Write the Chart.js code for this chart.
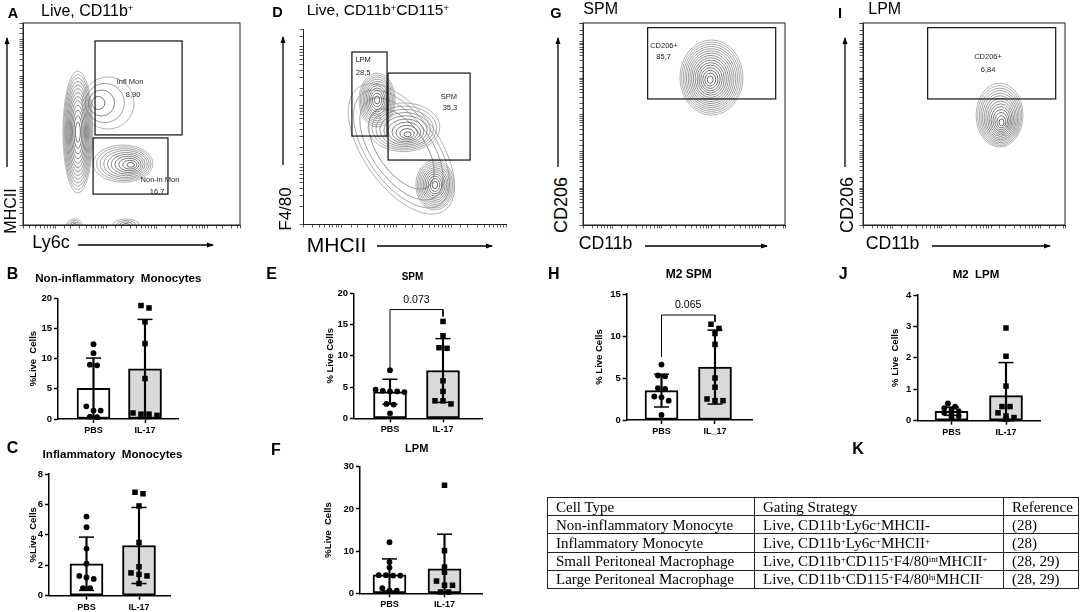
<!DOCTYPE html>
<html>
<head>
<meta charset="utf-8">
<title>Monocyte and macrophage gating</title>
<script src="https://cdn.jsdelivr.net/npm/chart.js@4.4.1/dist/chart.umd.min.js"></script>
<style>
  html, body { margin: 0; padding: 0; background: #fff; }
  #fig { position: relative; width: 1084px; height: 612px; overflow: hidden; font-family: "Liberation Sans", Arial, sans-serif; color: #000; }
  #fig canvas { position: absolute; }
  .t, .tl, .rot { position: absolute; white-space: pre; line-height: 1; }
  .t { transform: translate(-50%, -50%); }
  .tl { transform: translateY(-50%); }
  .rot { transform: translate(-50%, -50%) rotate(-90deg); }
  sup { font-size: 0.6em; vertical-align: 0.5em; line-height: 0; }
  #cells { position: absolute; left: 547px; top: 497px; width: 531px; table-layout: fixed; border-collapse: collapse;
           font-family: "Liberation Serif", "Times New Roman", serif; font-size: 15px; }
  #cells tr { height: 18.2px; }
  #cells td { border: 1px solid #222; padding: 0 0 0 8px; line-height: 16px; white-space: nowrap; overflow: hidden; }
</style>
</head>
<body>
<div id="fig"></div>
<script>
// ============================
// data
// ============================
const groups = ['PBS', 'IL-17'];
const groupsH = ['PBS', 'IL_17'];

// B  non-inflammatory monocytes
const nonInfPBS  = [12.4, 10.9, 9.0, 8.9, 2.1, 1.4, 1.4, 0.4, 0.3];
const nonInfIL17 = [18.8, 18.4, 16.1, 12.5, 6.7, 1.0, 0.8, 0.8, 0.6];
const nonInfMean = [5.1, 8.3];
const nonInfSD   = [5.0, 8.2];

// C  inflammatory monocytes
const infPBS  = [5.2, 4.5, 3.1, 2.1, 1.3, 1.2, 1.1, 0.5, 0.5];
const infIL17 = [6.8, 6.7, 5.9, 3.5, 1.9, 1.5, 1.4, 1.3, 0.8];
const infMean = [2.1, 3.3];
const infSD   = [1.75, 2.5];

// E  SPM
const spmPBS  = [7.7, 4.6, 4.4, 4.3, 4.3, 4.2, 2.3, 2.2, 0.8];
const spmIL17 = [15.5, 13.2, 11.3, 11.2, 6.0, 4.3, 2.8, 2.8, 2.3];
const spmMean = [4.25, 7.65];
const spmSD   = [2.0, 5.1];

// F  LPM
const lpmPBS  = [12.1, 7.4, 6.1, 4.3, 4.3, 4.2, 4.2, 1.2, 0.6, 0.6];
const lpmIL17 = [25.6, 10.1, 6.2, 5.0, 2.9, 1.9, 1.9, 0.3, 0.3];
const lpmMean = [4.35, 5.8];
const lpmSD   = [3.8, 8.2];

// H  M2 SPM
const m2spmPBS  = [6.6, 5.3, 5.2, 3.8, 3.7, 2.8, 2.7, 2.3, 0.6];
const m2spmIL17 = [11.4, 10.9, 10.3, 9.0, 5.0, 3.9, 2.5, 2.3, 2.3];
const m2spmMean = [3.5, 6.3];
const m2spmSD   = [1.95, 4.4];

// J  M2 LPM
const m2lpmPBS  = [0.55, 0.45, 0.4, 0.35, 0.3, 0.25, 0.2, 0.15, 0.1];
const m2lpmIL17 = [2.95, 2.05, 1.1, 0.45, 0.45, 0.25, 0.15, 0.1, 0.05];
const m2lpmMean = [0.3, 0.8];
const m2lpmSD   = [0.13, 1.05];

// p value brackets: [left leg end, bar height, right leg end, label height]
const spmBracket   = [8.1, 17.4, 16.3, 18.9];
const m2spmBracket = [7.5, 12.5, 11.7, 13.7];

// flow plots, values in % of the plot frame
// gates: [x1, y1, x2, y2]
// populations: [cx, cy, rx, ry, rings, tilt, outer dx, outer dy, ring spread]
const gatesA = [[33.2, 44.6, 73.3, 91.1], [32.3, 15.3, 66.8, 43.1]];
const gateTextA = [['Infl Mon', 49.3, 70.8], ['8,90', 50.7, 64.4], ['Non-in Mon', 63.1, 22.3], ['16,7', 61.8, 16.3]];
const popsA = [
  [25.3, 46.0, 6.9, 30.2, 13, 0, 0, 0, 0.7],
  [33.2, 60.4, 12.0, 12.9, 4, 0, 6, 0, 1],
  [50.2, 29.7, 13.8, 9.2, 10, 0, -4.1, 0.7, 0.9],
  [23.7, 0, 3.5, 3.0, 4, 0, 0, 0, 1],
  [47.5, 0, 6.0, 3.0, 4, 0, 0, 0, 1]
];

const gatesD = [[24.1, 45.1, 41.4, 88.2], [41.9, 32.8, 82.3, 77.4]];
const gateTextD = [['LPM', 29.6, 84.1], ['28,5', 29.6, 77.4], ['SPM', 71.9, 65.1], ['35,3', 72.4, 59.5]];
const popsD = [
  [48.5, 38.5, 37.0, 19.5, 4, 55, 0, 0, 0.35],
  [36.5, 63.6, 8.9, 13.8, 11, 0, 0, 0, 0.8],
  [51.7, 45.6, 17.7, 12.5, 10, 0, -2, 4, 1],
  [65.0, 20.0, 9.4, 12.8, 11, 0, 0, 0, 0.8]
];

const gatesG = [[32.0, 62.4, 95.4, 97.7]];
const gateTextG = [['CD206+', 40.1, 88.6], ['85,7', 39.9, 83.2]];
const popsG = [[62.9, 71.8, 15.6, 18.6, 16, 0, 0.7, 1.2, 0.85]];

const gatesI = [[32.0, 62.4, 95.4, 97.7]];
const gateTextI = [['CD206+', 61.9, 83.2], ['6,84', 61.9, 76.7]];
const popsI = [[68.7, 50.3, 11.6, 15.8, 14, 0, -1.1, 4.1, 0.85]];

// K  table
const tableHead = ['Cell Type', 'Gating Strategy', 'Reference'];
const cellTypes = ['Non-inflammatory Monocyte', 'Inflammatory Monocyte', 'Small Peritoneal Macrophage', 'Large Peritoneal Macrophage'];
const gatingRules = [
  'Live, CD11b<sup>+</sup>Ly6c<sup>+</sup>MHCII-',
  'Live, CD11b<sup>+</sup>Ly6c<sup>+</sup>MHCII<sup>+</sup>',
  'Live, CD11b<sup>+</sup>CD115<sup>+</sup>F4/80<sup>int</sup>MHCII<sup>+</sup>',
  'Live, CD11b<sup>+</sup>CD115<sup>+</sup>F4/80<sup>hi</sup>MHCII<sup>-</sup>'
];
const references = ['(28)', '(28)', '(28, 29)', '(28, 29)'];

// ============================
// helpers
// ============================
Chart.defaults.font.family = '"Liberation Sans", Arial, sans-serif';
Chart.defaults.color = '#000';
Chart.defaults.animation = false;
Chart.defaults.plugins.legend.display = false;
Chart.defaults.plugins.tooltip.enabled = false;

const fig = document.getElementById('fig');

function addCanvas(x, y, w, h) {
  const c = document.createElement('canvas');
  c.width = w; c.height = h;
  c.style.left = x + 'px'; c.style.top = y + 'px';
  c.style.width = w + 'px'; c.style.height = h + 'px';
  fig.appendChild(c);
  return c;
}

function put(html, x, y, css, cls) {
  const d = document.createElement('div');
  d.className = cls || 't';
  d.innerHTML = html;
  d.style.cssText = 'left:' + x + 'px;top:' + y + 'px;' + (css || '');
  fig.appendChild(d);
}

// dot layout like the stats program: values that sit at the same height share a centred row
function swarm(vals, pxY, pxX, idx, gap) {
  const order = vals.map((v, i) => i).sort((a, b) => vals[b] - vals[a]);
  const out = new Array(vals.length);
  let row = [];
  const flush = () => {
    row.forEach((i, k) => {
      out[i] = { x: idx + (k - (row.length - 1) / 2) * gap / pxX, y: vals[i] };
    });
    row = [];
  };
  order.forEach(i => {
    if (row.length && (vals[row[0]] - vals[i]) * pxY > gap * 0.6) flush();
    row.push(i);
  });
  flush();
  return out;
}

function sigLabel(text, yv) {
  return {
    id: 'sigLabel',
    afterDatasetsDraw(chart) {
      if (!text) return;
      const { ctx, scales: { x, y } } = chart;
      ctx.save();
      ctx.font = '10.5px "Liberation Sans", Arial';
      ctx.fillStyle = '#000';
      ctx.textAlign = 'center';
      ctx.textBaseline = 'middle';
      ctx.fillText(text, x.getPixelForValue(0.5), y.getPixelForValue(yv));
      ctx.restore();
    }
  };
}

// ============================
// bar + dot panels
// ============================
function barPanel(p) {
  const left = Math.round(p.titleX - 5.7);
  const top = Math.round(p.T - 12);
  const xH = 22;
  const w = Math.ceil(p.R + 10 - left);
  const h = Math.ceil(p.B + xH + 2 - top);
  const cv = addCanvas(left, top, w, h);
  const span = p.c1 - p.c0;
  const pxY = (p.B - p.T) / p.ymax;
  const dots = swarm(p.pbs, pxY, span, 0, 7.2);
  const squares = swarm(p.il17, pxY, span, 1, 8);
  const caps = [];
  p.mean.forEach((m, i) => {
    caps.push({ x: i, y: m + p.sd[i] }, { x: i, y: Math.max(m - p.sd[i], 0) });
  });

  const datasets = [
    { type: 'bar', data: p.mean.map((m, i) => ({ x: i, y: m })), backgroundColor: ['#ffffff', '#d9d9d9'],
      borderColor: '#000', borderWidth: 2, borderSkipped: false, barThickness: 33, grouped: false, order: 6 },
    { type: 'bar', data: p.mean.map((m, i) => ({ x: i, y: [Math.max(m - p.sd[i], 0), m + p.sd[i]] })),
      backgroundColor: '#000', borderWidth: 0, barThickness: 1.5, grouped: false, order: 5 },
    { type: 'scatter', data: caps, pointStyle: 'line', pointRadius: 7.5, pointBorderColor: '#000',
      pointBorderWidth: 1.5, clip: false, order: 4 },
    { type: 'scatter', data: dots, pointStyle: 'circle', pointRadius: 2.9, pointBackgroundColor: '#000',
      pointBorderWidth: 0, clip: false, order: 3 },
    { type: 'scatter', data: squares, pointStyle: 'rect', pointRadius: 3.9, pointBackgroundColor: '#000',
      pointBorderWidth: 0, clip: false, order: 2 }
  ];
  if (p.bracket) {
    const b = p.bracket;
    datasets.push({ type: 'line', data: [{ x: 0, y: b[0] }, { x: 0, y: b[1] }, { x: 1, y: b[1] }, { x: 1, y: b[2] }],
      borderColor: '#000', borderWidth: 1, pointRadius: 0, fill: false, clip: false, order: 1 });
  }

  new Chart(cv, {
    type: 'bar',
    data: { datasets },
    options: {
      responsive: false,
      events: [],
      layout: { padding: { left: 0, top: p.T - top, right: w - (p.R - left), bottom: h - xH - (p.B - top) } },
      scales: {
        x: {
          type: 'linear', offset: false,
          min: -(p.c0 - p.L) / span, max: 1 + (p.R - p.c1) / span,
          afterBuildTicks: s => { s.ticks = [{ value: 0 }, { value: 1 }]; },
          ticks: { callback: (v, i) => p.labels[i], font: { size: 9, weight: 'bold' }, padding: 2, maxRotation: 0, autoSkip: false },
          grid: { drawOnChartArea: false, offset: false, tickLength: 4, tickColor: '#000', tickWidth: 1.5 },
          border: { color: '#000', width: 1.5 },
          afterFit: s => { s.height = xH; }
        },
        y: {
          type: 'linear', min: 0, max: p.ymax,
          ticks: { stepSize: p.step, font: { size: 9.5, weight: 'bold' }, padding: 2 },
          grid: { drawOnChartArea: false, tickLength: 4, tickColor: '#000', tickWidth: 1.5 },
          border: { color: '#000', width: 1.5 },
          title: { display: true, text: p.yTitle, font: { size: 9.5, weight: 'bold' }, padding: 0 },
          afterFit: s => { s.width = p.L - left; }
        }
      }
    },
    plugins: [sigLabel(p.sigText, p.bracket ? p.bracket[3] : 0)]
  });
}

// ============================
// flow cytometry panels
// ============================
function drawPop(ctx, x, y, b) {
  const [cx, cy, rx, ry, n, tilt, sx, sy, pw] = b;
  const px = x.getPixelForValue(cx), py = y.getPixelForValue(cy);
  const prx = x.getPixelForValue(cx + rx) - px;
  const pry = py - y.getPixelForValue(cy + ry);
  const psx = x.getPixelForValue(cx + sx) - px;
  const psy = y.getPixelForValue(cy + sy) - py;
  ctx.lineWidth = 0.8;
  for (let k = n; k >= 1; k--) {
    const t = Math.pow(k / n, pw);
    const g = Math.round(55 + 105 * t);
    ctx.strokeStyle = 'rgb(' + g + ',' + g + ',' + g + ')';
    ctx.beginPath();
    ctx.ellipse(px + psx * t, py + psy * t, prx * t, pry * t, tilt * Math.PI / 180, 0, 2 * Math.PI);
    ctx.stroke();
  }
}

function flowMarks(p) {
  return {
    id: 'flowMarks',
    afterDraw(chart) {
      const { ctx, chartArea: a, scales: { x, y } } = chart;
      ctx.save();
      ctx.beginPath();
      ctx.rect(a.left, a.top, a.width, a.height);
      ctx.clip();
      p.pops.forEach(b => drawPop(ctx, x, y, b));
      ctx.restore();

      ctx.save();
      ctx.strokeStyle = '#111';
      ctx.lineWidth = 1.2;
      p.gates.forEach(g => {
        const x1 = x.getPixelForValue(g[0]), x2 = x.getPixelForValue(g[2]);
        const y1 = y.getPixelForValue(g[1]), y2 = y.getPixelForValue(g[3]);
        ctx.strokeRect(x1, y2, x2 - x1, y1 - y2);
      });
      ctx.fillStyle = '#222';
      ctx.font = '7.5px "Liberation Sans", Arial';
      ctx.textAlign = 'center';
      ctx.textBaseline = 'middle';
      p.texts.forEach(t => ctx.fillText(t[0], x.getPixelForValue(t[1]), y.getPixelForValue(t[2])));
      if (p.box) {
        ctx.strokeStyle = '#222';
        ctx.lineWidth = 1;
        ctx.strokeRect(a.left, a.top, a.width, a.height);
      }
      ctx.restore();
    }
  };
}

function flowPanel(p) {
  const m = 5, tk = 6;
  const left = p.l - m - tk, top = p.t - m;
  const w = p.r - p.l + 2 * m + tk, h = p.b - p.t + 2 * m + tk;
  const cv = addCanvas(left, top, w, h);
  const logAxis = (pos, dec) => ({
    type: 'logarithmic', position: pos, min: Math.pow(10, dec[0]), max: Math.pow(10, dec[1]),
    ticks: { display: false, autoSkip: false },
    grid: { drawOnChartArea: false, tickLength: 3.5, tickColor: '#333', tickWidth: 0.8 },
    border: { color: '#222', width: 1 },
    afterFit: s => { if (pos === 'bottom') s.height = tk; else s.width = tk; }
  });
  new Chart(cv, {
    type: 'scatter',
    data: { datasets: [] },
    options: {
      responsive: false,
      events: [],
      layout: { padding: { left: m, top: m, right: m, bottom: m } },
      scales: {
        x: { type: 'linear', min: 0, max: 100, display: false },
        y: { type: 'linear', min: 0, max: 100, display: false },
        xt: logAxis('bottom', p.xDec),
        yt: logAxis('left', p.yDec)
      }
    },
    plugins: [flowMarks(p)]
  });
}

// ============================
// build the figure
// ============================
flowPanel({ l: 23, t: 23, r: 240, b: 225, xDec: [0.35, 4.65], yDec: [0, 5.45], box: true, gates: gatesA, texts: gateTextA, pops: popsA });
flowPanel({ l: 303, t: 29, r: 506, b: 224, xDec: [0.3, 4.0], yDec: [0, 3.3], box: false, gates: gatesD, texts: gateTextD, pops: popsD });
flowPanel({ l: 583, t: 23, r: 785, b: 225, xDec: [0.4, 4.5], yDec: [0, 5.5], box: true, gates: gatesG, texts: gateTextG, pops: popsG });
flowPanel({ l: 863, t: 23, r: 1065, b: 225, xDec: [0.4, 4.5], yDec: [0, 5.5], box: true, gates: gatesI, texts: gateTextI, pops: popsI });

barPanel({ L: 58, R: 178, T: 298.3, B: 419, ymax: 20, step: 5, titleX: 34, c0: 93.5, c1: 145, labels: groups,
  pbs: nonInfPBS, il17: nonInfIL17, mean: nonInfMean, sd: nonInfSD, yTitle: '%Live  Cells' });
barPanel({ L: 49, R: 170, T: 474, B: 595.7, ymax: 8, step: 2, titleX: 33.5, c0: 86.5, c1: 139, labels: groups,
  pbs: infPBS, il17: infIL17, mean: infMean, sd: infSD, yTitle: '%Live  Cells' });
barPanel({ L: 354, R: 482, T: 293.3, B: 418.3, ymax: 20, step: 5, titleX: 331, c0: 390, c1: 443, labels: groups,
  pbs: spmPBS, il17: spmIL17, mean: spmMean, sd: spmSD, yTitle: '% Live Cells', bracket: spmBracket, sigText: '0.073' });
barPanel({ L: 360, R: 482, T: 466.7, B: 593.3, ymax: 30, step: 10, titleX: 329, c0: 389.5, c1: 444.5, labels: groups,
  pbs: lpmPBS, il17: lpmIL17, mean: lpmMean, sd: lpmSD, yTitle: '%Live  Cells' });
barPanel({ L: 626.7, R: 752, T: 294, B: 420, ymax: 15, step: 5, titleX: 600, c0: 661.5, c1: 715, labels: groupsH,
  pbs: m2spmPBS, il17: m2spmIL17, mean: m2spmMean, sd: m2spmSD, yTitle: '% Live Cells', bracket: m2spmBracket, sigText: '0.065' });
barPanel({ L: 917.3, R: 1040, T: 295, B: 420.7, ymax: 4, step: 1, titleX: 895.5, c0: 951.5, c1: 1006, labels: groups,
  pbs: m2lpmPBS, il17: m2lpmIL17, mean: m2lpmMean, sd: m2lpmSD, yTitle: '% Live  Cells' });

// flow headers, axis names
const bold = 'font-weight:bold;';
put('A', 13, 13, bold + 'font-size:14.5px;');
put('Live, CD11b<sup>+</sup>', 41, 10.8, 'font-size:16px;', 'tl');
put('D', 277.5, 12, bold + 'font-size:14.5px;');
put('Live, CD11b<sup>+</sup>CD115<sup>+</sup>', 306.7, 9.5, 'font-size:15.5px;', 'tl');
put('G', 556, 13.3, bold + 'font-size:14.5px;');
put('SPM', 583.3, 9.4, 'font-size:16px;', 'tl');
put('I', 840, 13.3, bold + 'font-size:14.5px;');
put('LPM', 868.3, 9.4, 'font-size:16px;', 'tl');

put('MHCII', 10.5, 210.5, 'font-size:16px;', 'rot');
put('Ly6c', 51, 242, 'font-size:18px;');
put('F4/80', 284.5, 208.5, 'font-size:17px;', 'rot');
put('MHCII', 336.5, 243.5, 'font-size:21px;');
put('CD206', 560.5, 205, 'font-size:18px;', 'rot');
put('CD11b', 605.5, 244, 'font-size:17.7px;');
put('CD206', 846.5, 205, 'font-size:18px;', 'rot');
put('CD11b', 892.5, 244, 'font-size:17.7px;');

// axis arrows of the flow plots
const arrows = [[7, 167, 7, 38], [78, 245, 213, 245], [283, 165, 283, 37], [377, 246, 492, 246],
                [558, 167, 558, 38], [645, 246, 767, 246], [845, 167, 845, 38], [932, 246, 1050, 246]];
let svg = '<svg width="1084" height="612" style="position:absolute;left:0;top:0" xmlns="http://www.w3.org/2000/svg">';
arrows.forEach(([x1, y1, x2, y2]) => {
  svg += '<line x1="' + x1 + '" y1="' + y1 + '" x2="' + x2 + '" y2="' + y2 + '" stroke="#000" stroke-width="1.3"/>';
  const pts = x1 === x2
    ? [[x2, y2 - 1], [x2 - 2.5, y2 + 6], [x2 + 2.5, y2 + 6]]
    : [[x2 + 1, y2], [x2 - 6, y2 - 2.5], [x2 - 6, y2 + 2.5]];
  svg += '<polygon points="' + pts.map(q => q.join(',')).join(' ') + '" fill="#000"/>';
});
svg += '</svg>';
fig.insertAdjacentHTML('beforeend', svg);

// bar panel letters and titles
put('B', 12.5, 274.2, bold + 'font-size:16px;');
put('Non-inflammatory  Monocytes', 118.3, 277.7, bold + 'font-size:11.6px;');
put('C', 12.5, 448.3, bold + 'font-size:16px;');
put('Inflammatory  Monocytes', 112.5, 453.5, bold + 'font-size:11.6px;');
put('E', 271.7, 274.2, bold + 'font-size:16px;');
put('SPM', 412.5, 276.7, bold + 'font-size:10px;');
put('F', 275.8, 450, bold + 'font-size:16px;');
put('LPM', 416.7, 447.5, bold + 'font-size:11px;');
put('H', 553.8, 273.8, bold + 'font-size:16px;');
put('M2 SPM', 688.8, 273.8, bold + 'font-size:12px;');
put('J', 843.3, 274.2, bold + 'font-size:16px;');
put('M2  LPM', 976, 274.5, bold + 'font-size:11.5px;');
put('K', 858, 449, bold + 'font-size:16px;');

// table K
let tbl = '<table id="cells"><colgroup><col style="width:207px"><col style="width:249px"><col style="width:75px"></colgroup>';
tbl += '<tr>' + tableHead.map(c => '<td>' + c + '</td>').join('') + '</tr>';
cellTypes.forEach((c, i) => {
  tbl += '<tr><td>' + c + '</td><td>' + gatingRules[i] + '</td><td>' + references[i] + '</td></tr>';
});
tbl += '</table>';
fig.insertAdjacentHTML('beforeend', tbl);
</script>
</body>
</html>
